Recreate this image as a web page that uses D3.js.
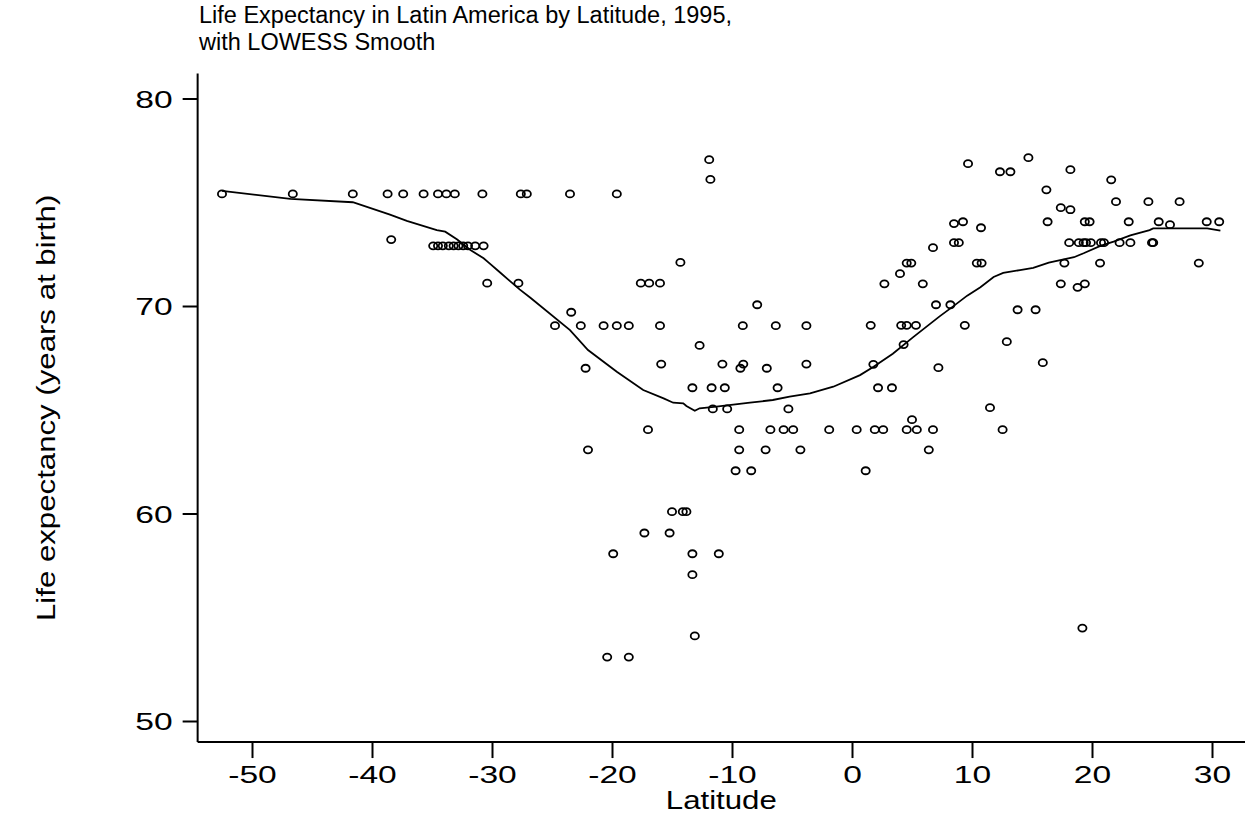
<!DOCTYPE html>
<html>
<head>
<meta charset="utf-8">
<script src="https://cdn.jsdelivr.net/npm/d3@7"></script>
<style>
  body { margin: 0; background: #fff; }
  svg text { font-family: "Liberation Sans", Arial, Helvetica, sans-serif; fill: #000; }
</style>
</head>
<body>
<svg id="chart" width="1249" height="817"></svg>
<script>
// countries / regions: latitude and life expectancy, 1995
var lat = [
  -52.5, -46.6, -41.6, -38.7, -37.4, -35.7, -34.5, -33.8, -33.1, -30.8, -27.6, -27.1, -23.5, -19.6,
  -38.4,
  -34.9, -34.5, -34.1, -33.6, -33.2, -32.8, -32.4, -32.0, -31.4, -30.7,
  -30.4, -27.8, -17.6, -16.9, -16.0,
  -11.9, -11.8, -14.3, -7.9, -23.4,
  -24.75, -22.6, -20.7, -19.6, -18.6, -16.0, -9.1, -6.35, -3.8,
  -12.7, -22.2,
  -15.9, -10.8, -9.06, -3.8, -9.3, -7.1,
  -13.3, -11.7, -10.6, -6.2,
  -11.6, -10.4, -5.3,
  -17.0, -9.4, -6.8, -5.7, -4.9, -1.9,
  -22.0, -9.4, -7.2, -4.3,
  -9.7, -8.4,
  -15.0, -14.1, -13.8,
  -17.3, -15.2,
  -19.9, -13.3, -11.1,
  -13.3, -13.1,
  -20.4, -18.6,
  9.67, 12.33, 13.2, 14.7, 16.2, 16.3,
  8.5, 9.25, 10.75,
  8.5, 8.9, 6.75,
  4.56, 4.94, 10.4, 10.8,
  4.0, 2.7, 5.9,
  7.0, 8.2,
  13.8, 15.3,
  1.56, 4.1, 4.56, 5.33, 9.4,
  4.3, 12.9,
  1.78, 7.2, 15.9,
  2.17, 3.33,
  11.5,
  5.0,
  0.39, 1.9, 2.6, 4.56, 5.4, 6.75, 12.55,
  6.4,
  1.14,
  18.2, 21.6, 22.0, 24.7, 27.3,
  17.4, 18.2,
  19.4, 19.8, 23.06, 25.56, 29.56, 30.6,
  26.5,
  18.1, 18.9, 19.3, 19.5, 19.9, 20.75, 21.0, 22.3, 23.2, 25.0, 25.1,
  17.7, 20.67, 28.9,
  17.4, 19.4, 18.8,
  19.2
]
var life = [
  75.4, 75.4, 75.4, 75.4, 75.4, 75.4, 75.4, 75.4, 75.4, 75.4, 75.4, 75.4, 75.4, 75.4,
  73.2,
  72.9, 72.9, 72.9, 72.9, 72.9, 72.9, 72.9, 72.9, 72.9, 72.9,
  71.1, 71.1, 71.1, 71.1, 71.1,
  77.05, 76.1, 72.1, 70.06, 69.7,
  69.05, 69.05, 69.05, 69.05, 69.05, 69.05, 69.05, 69.05, 69.05,
  68.1, 67.0,
  67.2, 67.2, 67.2, 67.2, 67.0, 67.0,
  66.06, 66.06, 66.06, 66.06,
  65.04, 65.04, 65.04,
  64.04, 64.04, 64.04, 64.04, 64.04, 64.04,
  63.07, 63.07, 63.07, 63.07,
  62.06, 62.06,
  60.09, 60.09, 60.09,
  59.06, 59.06,
  58.06, 58.06, 58.06,
  57.05, 54.1,
  53.08, 53.08,
  76.86, 76.47, 76.47, 77.15, 75.6, 74.06,
  73.97, 74.06, 73.77,
  73.05, 73.05, 72.81,
  72.07, 72.07, 72.07, 72.07,
  71.56, 71.07, 71.07,
  70.06, 70.06,
  69.82, 69.82,
  69.07, 69.07, 69.07, 69.07, 69.07,
  68.14, 68.28,
  67.19, 67.03, 67.27,
  66.06, 66.06,
  65.1,
  64.52,
  64.04, 64.04, 64.04, 64.04, 64.04, 64.04, 64.04,
  63.07,
  62.06,
  76.57, 76.08, 75.03, 75.03, 75.03,
  74.74, 74.64,
  74.06, 74.06, 74.06, 74.06, 74.06, 74.06,
  73.92,
  73.05, 73.05, 73.05, 73.05, 73.05, 73.05, 73.05, 73.05, 73.05, 73.05, 73.05,
  72.07, 72.07, 72.07,
  71.07, 71.07, 70.9,
  54.48
]

// LOWESS smooth
var smoothLat = [-52.5, -46.8, -41.6, -38.5, -37.1, -34.6, -33.9, -32.9, -31.8, -30.7, -30.3, -29.3, -27.7, -26.8,
  -23.5, -22.0, -19.6, -17.4, -15.7, -14.9, -14.06, -13.8, -13.1, -12.7, -11.3, -8.5, -6.6, -5.2, -3.5, -1.56,
  0.67, 1.8, 3.4, 5.1, 7.3, 8.4, 9.6, 10.7, 11.8, 12.6, 14.0, 15.1, 16.4, 18.5, 19.3, 20.7, 21.8, 23.2, 24.8,
  25.1, 29.6, 30.7]
var smoothLife = [75.55, 75.16, 75.0, 74.4, 74.1, 73.66, 73.58, 73.2, 72.7, 72.3, 72.1, 71.6, 70.8, 70.4,
  68.84, 67.88, 66.83, 65.95, 65.55, 65.34, 65.31, 65.18, 64.95, 65.07, 65.15, 65.34, 65.47, 65.63, 65.79, 66.11,
  66.67, 67.07, 67.7, 68.5, 69.5, 69.97, 70.5, 70.9, 71.4, 71.6, 71.73, 71.84, 72.09, 72.35, 72.54, 72.9, 73.1,
  73.4, 73.66, 73.74, 73.74, 73.63]

var xTicks = [-50, -40, -30, -20, -10, 0, 10, 20, 30]
var yTicks = [50, 60, 70, 80]

var titleLines = ['Life Expectancy in Latin America by Latitude, 1995,', 'with LOWESS Smooth']
var xLabel = 'Latitude'
var yLabel = 'Life expectancy (years at birth)'

var svg = d3.select('#chart')

var x = d3.scaleLinear().domain([-50, 30]).range([252, 1212])
var y = d3.scaleLinear().domain([50, 80]).range([721, 98.5])

var xMin = -54.53, xMax = 32.75, yMin = 48.985, yMax = 81.2

// axis lines
svg.append('line')
  .attr('x1', x(xMin)).attr('x2', x(xMax))
  .attr('y1', y(yMin)).attr('y2', y(yMin))
  .attr('stroke', '#000').attr('stroke-width', 2)
svg.append('line')
  .attr('x1', x(xMin)).attr('x2', x(xMin))
  .attr('y1', y(yMin)).attr('y2', y(yMax))
  .attr('stroke', '#000').attr('stroke-width', 2)

// x ticks
var xg = svg.append('g').attr('transform', 'translate(0,' + y(yMin) + ')')
  .call(d3.axisBottom(x).tickValues(xTicks).tickSize(16).tickFormat(function(d){ return String(d) }))
xg.select('.domain').remove()
xg.selectAll('.tick line').attr('stroke-width', 2)
xg.selectAll('.tick text')
  .attr('y', 0).attr('dy', 0)
  .attr('transform', 'translate(0,41) scale(1.4,1)')
  .attr('font-size', 24).attr('font-family', '"Liberation Sans", Arial, sans-serif')

// y ticks
var yg = svg.append('g').attr('transform', 'translate(' + x(xMin) + ',0)')
  .call(d3.axisLeft(y).tickValues(yTicks).tickSize(15).tickFormat(function(d){ return String(d) }))
yg.select('.domain').remove()
yg.selectAll('.tick line').attr('stroke-width', 2)
yg.selectAll('.tick text')
  .attr('x', 0).attr('dy', '0.36em')
  .attr('transform', 'translate(-25,0) scale(1.4,1)')
  .attr('font-size', 24).attr('font-family', '"Liberation Sans", Arial, sans-serif')

// lowess line
var smooth = smoothLat.map(function(d, i){ return [d, smoothLife[i]] })
svg.append('path')
  .datum(smooth)
  .attr('fill', 'none')
  .attr('stroke', '#000')
  .attr('stroke-width', 1.8)
  .attr('d', d3.line().x(function(d){ return x(d[0]) }).y(function(d){ return y(d[1]) }))

// points
var pts = lat.map(function(d, i){ return [d, life[i]] })
svg.append('g').selectAll('ellipse')
  .data(pts)
  .enter().append('ellipse')
  .attr('cx', function(d){ return x(d[0]) })
  .attr('cy', function(d){ return y(d[1]) })
  .attr('rx', 4.1).attr('ry', 3.5)
  .attr('fill', 'none')
  .attr('stroke', '#000')
  .attr('stroke-width', 1.8)

// title
titleLines.forEach(function(t, i){
  svg.append('text')
    .attr('transform', 'translate(199,' + (23 + i * 27) + ')')
    .attr('font-size', 23.5)
    .text(t)
})

// axis labels
svg.append('text')
  .attr('transform', 'translate(' + ((x(xMin) + x(xMax)) / 2) + ',809) scale(1.2,1)')
  .attr('text-anchor', 'middle')
  .attr('font-size', 26)
  .text(xLabel)

svg.append('text')
  .attr('transform', 'translate(55,' + ((y(yMin) + y(yMax)) / 2) + ') rotate(-90) scale(1.2,1)')
  .attr('text-anchor', 'middle')
  .attr('font-size', 26)
  .text(yLabel)
</script>
</body>
</html>
